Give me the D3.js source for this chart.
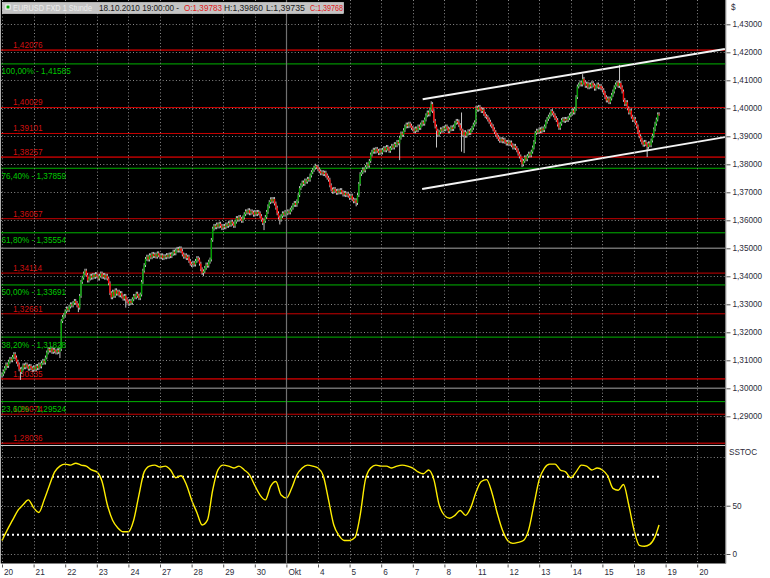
<!DOCTYPE html>
<html><head><meta charset="utf-8">
<script src="https://cdn.jsdelivr.net/npm/d3@7"></script>
<style>body{margin:0;background:#fff}svg{display:block}</style>
</head><body><svg id="c" width="770" height="578"></svg>
<script>
// ---------- DATA ----------
const dayLabels = ["20","21","22","23","24","27","28","29","30","Okt","4","5","6","7","8","11","12","13","14","15","18","19","20"];
const firstOpen = 1.3045;
const closes = [
1.3050,1.3060,1.3072,1.3085,1.3080,1.3095,1.3105,1.3100,1.3112,1.3122,1.3110,1.3095,1.3085,1.3068,1.3058,1.3070,1.3082,1.3075,1.3085,1.3078,1.3070,1.3080,1.3072,1.3066,
1.3075,1.3068,1.3080,1.3072,1.3085,1.3078,1.3090,1.3098,1.3092,1.3110,1.3128,1.3140,1.3135,1.3142,1.3130,1.3138,1.3132,1.3128,1.3136,1.3130,1.3140,1.3240,1.3255,1.3262,
1.3275,1.3285,1.3280,1.3292,1.3300,1.3296,1.3305,1.3312,1.3305,1.3296,1.3288,1.3330,1.3380,1.3395,1.3410,1.3420,1.3405,1.3385,1.3392,1.3402,1.3395,1.3405,1.3398,1.3408,
1.3400,1.3392,1.3402,1.3410,1.3398,1.3405,1.3395,1.3402,1.3392,1.3375,1.3340,1.3325,1.3345,1.3330,1.3350,1.3338,1.3345,1.3332,1.3340,1.3328,1.3320,1.3330,1.3318,1.3310,
1.3302,1.3312,1.3305,1.3318,1.3330,1.3325,1.3338,1.3330,1.3322,1.3335,1.3380,1.3420,1.3440,1.3462,1.3470,1.3460,1.3475,1.3468,1.3480,1.3472,1.3478,1.3470,1.3482,1.3475,
1.3468,1.3475,1.3465,1.3472,1.3468,1.3476,1.3470,1.3478,1.3472,1.3480,1.3488,1.3482,1.3492,1.3498,1.3492,1.3500,1.3490,1.3478,1.3470,1.3475,1.3465,1.3470,1.3455,1.3445,
1.3440,1.3448,1.3442,1.3455,1.3465,1.3460,1.3445,1.3425,1.3412,1.3418,1.3430,1.3442,1.3438,1.3452,1.3460,1.3530,1.3570,1.3580,1.3575,1.3585,1.3578,1.3588,1.3580,1.3572,
1.3580,1.3575,1.3585,1.3580,1.3590,1.3584,1.3595,1.3588,1.3580,1.3595,1.3608,1.3602,1.3612,1.3605,1.3598,1.3610,1.3622,1.3632,1.3628,1.3636,1.3625,1.3632,1.3628,1.3620,
1.3630,1.3622,1.3630,1.3625,1.3615,1.3602,1.3590,1.3598,1.3612,1.3630,1.3650,1.3665,1.3675,1.3668,1.3676,1.3660,1.3645,1.3625,1.3610,1.3602,1.3615,1.3625,1.3620,1.3630,
1.3625,1.3632,1.3628,1.3638,1.3645,1.3655,1.3662,1.3655,1.3668,1.3690,1.3715,1.3725,1.3735,1.3730,1.3742,1.3738,1.3748,1.3745,1.3760,1.3772,1.3780,1.3788,1.3795,1.3790,
1.3782,1.3775,1.3768,1.3772,1.3765,1.3770,1.3760,1.3752,1.3745,1.3725,1.3710,1.3702,1.3712,1.3705,1.3698,1.3706,1.3700,1.3708,1.3700,1.3692,1.3698,1.3690,1.3695,1.3688,
1.3680,1.3688,1.3675,1.3668,1.3672,1.3662,1.3690,1.3730,1.3765,1.3772,1.3782,1.3778,1.3790,1.3800,1.3795,1.3812,1.3835,1.3845,1.3852,1.3845,1.3855,1.3848,1.3840,1.3850,
1.3842,1.3852,1.3858,1.3850,1.3862,1.3856,1.3848,1.3858,1.3866,1.3860,1.3872,1.3868,1.3880,1.3875,1.3895,1.3910,1.3905,1.3922,1.3935,1.3942,1.3936,1.3945,1.3938,1.3930,
1.3925,1.3918,1.3928,1.3922,1.3935,1.3930,1.3942,1.3950,1.3945,1.3960,1.3975,1.3985,1.3978,1.3995,1.4015,1.3990,1.3955,1.3935,1.3920,1.3905,1.3915,1.3925,1.3920,1.3930,
1.3925,1.3935,1.3928,1.3918,1.3925,1.3932,1.3926,1.3935,1.3948,1.3955,1.3950,1.3940,1.3928,1.3920,1.3905,1.3915,1.3902,1.3910,1.3918,1.3912,1.3922,1.3930,1.3942,1.3950,
1.4002,1.3995,1.4005,1.3998,1.3990,1.3995,1.3980,1.3972,1.3968,1.3960,1.3952,1.3942,1.3936,1.3925,1.3915,1.3905,1.3898,1.3890,1.3884,1.3890,1.3882,1.3888,1.3880,1.3874,
1.3880,1.3872,1.3878,1.3868,1.3860,1.3866,1.3858,1.3850,1.3838,1.3828,1.3815,1.3800,1.3812,1.3825,1.3818,1.3830,1.3838,1.3832,1.3845,1.3860,1.3880,1.3912,1.3920,1.3915,
1.3925,1.3918,1.3928,1.3922,1.3935,1.3952,1.3962,1.3970,1.3978,1.3990,1.3982,1.3975,1.3965,1.3958,1.3942,1.3930,1.3945,1.3958,1.3962,1.3955,1.3962,1.3958,1.3965,1.3975,
1.3980,1.3992,1.3985,1.3998,1.4040,1.4078,1.4085,1.4092,1.4085,1.4105,1.4092,1.4080,1.4088,1.4075,1.4085,1.4078,1.4090,1.4082,1.4070,1.4078,1.4085,1.4075,1.4080,1.4072,
1.4065,1.4055,1.4040,1.4028,1.4035,1.4022,1.4035,1.4048,1.4060,1.4075,1.4085,1.4092,1.4080,1.4090,1.4075,1.4060,1.4030,1.4015,1.4022,1.4000,1.3985,1.3992,1.3970,1.3958,
1.3962,1.3948,1.3935,1.3915,1.3900,1.3888,1.3878,1.3870,1.3880,1.3872,1.3862,1.3875,1.3868,1.3885,1.3902,1.3925,1.3945,1.3960,1.39783,1.39768
];
// notable wicks
const spikeIdx  = [14, 44, 58, 94, 153, 199, 205, 211, 239, 269, 302, 326, 330, 347, 349, 351, 395, 441, 469, 490, 499];
const spikeHigh = [null,null,null,null,null,null,1.3683,null,1.3798,null,null,1.4025,null,1.3960,1.3985,null,null,1.4122,1.4155,null,1.39860];
const spikeLow  = [1.3030,1.3108,1.3272,1.3288,1.3401,1.3565,null,1.3585,null,1.3650,1.3815,null,1.3860,null,1.3845,1.3840,1.3790,null,null,1.3826,1.39735];

const redLevels = [1.42076, 1.40029, 1.39101, 1.38257, 1.36057, 1.34114, 1.32661, 1.30335, 1.29074, 1.28036];
const fibNames  = ["100,00%", "76,40%", "61,80%", "50,00%", "38,20%", "23,60%"];
const fibLevels = [1.41585, 1.37859, 1.35554, 1.33691, 1.31828, 1.29524];
const grayLevels = [1.35, 1.30];
const priceTicks = [1.29,1.30,1.31,1.32,1.33,1.34,1.35,1.36,1.37,1.38,1.39,1.40,1.41,1.42,1.43];
const stochTicks = [0, 50];
const stochGrid = [0, 50, 100];
const stochBands = [20, 80];
const stochStep = 4;
const stochK = [
14,25,35,45,51,56,48,43,56,71,
85,91,93,92,94,92,91,87,85,75,
51,35,27,23,23,35,61,85,91,92,
90,91,87,79,81,72,56,43,30,35,
66,87,92,91,89,91,87,82,71,61,
56,70,75,61,58,68,82,89,92,91,
89,81,56,30,19,14,14,17,40,77,
89,92,91,91,89,91,92,91,89,85,
83,87,77,51,40,37,40,45,40,48,
64,75,77,64,43,25,14,11,12,14,
25,51,77,89,93,93,87,85,79,85,
92,91,87,89,87,81,68,66,72,51,
25,9,8,10,18
];
const stochLast = 30;
// trend channel: [startBar, startPrice] -> [endBar, endPrice]
const trendStart = [[319.5, 1.40321], [319.1, 1.37118]];
const trendEnd   = [[549, 1.42118], [549, 1.38971]];
// header texts
const symbolName = "EURUSD FXD 1 Stunde";
const lastTime = "18.10.2010 19:00:00 -";

// ---------- SETUP ----------
const FONT = "'Liberation Sans', Arial, sans-serif";
const svg = d3.select("#c");
const nDays = dayLabels.length;
const x = d3.scaleLinear().domain([0, (nDays - 1) * 24]).range([2, 2 + (nDays - 1) * 31.6]);
const yP = d3.scaleLinear().domain([1.30, 1.43]).range([388.3, 24.3]);
const yS = d3.scaleLinear().domain([0, 100]).range([554, 457.4]);
const L = 1, R = 725.5, PB = 444, ST = 446, B = 563.5;
const fmt5 = v => d3.format(".5f")(v).replace(".", ",");

svg.append("rect").attr("width", 770).attr("height", 578).attr("fill", "#fff");
svg.append("rect").attr("x", L).attr("y", 0).attr("width", R - L).attr("height", B).attr("fill", "#000");
svg.append("line").attr("x1", 0.5).attr("x2", 0.5).attr("y1", 0).attr("y2", B).attr("stroke", "#b0b0b0");

const defs = svg.append("defs");
defs.append("clipPath").attr("id", "cp").append("rect").attr("x", L).attr("y", 0).attr("width", R - L).attr("height", PB);
defs.append("clipPath").attr("id", "cs").append("rect").attr("x", L).attr("y", ST).attr("width", R - L).attr("height", B - ST);

const gP = svg.append("g").attr("clip-path", "url(#cp)");
const gS = svg.append("g").attr("clip-path", "url(#cs)");

// grids
gP.selectAll(".hg").data(priceTicks).join("line")
  .attr("x1", L).attr("x2", R).attr("y1", d => Math.round(yP(d)) + 0.5).attr("y2", d => Math.round(yP(d)) + 0.5)
  .attr("stroke", "#8a8a8a").attr("stroke-dasharray", "1,2.3");
gS.selectAll(".sg").data(stochGrid).join("line")
  .attr("x1", L).attr("x2", R).attr("y1", d => Math.round(yS(d)) + 0.5).attr("y2", d => Math.round(yS(d)) + 0.5)
  .attr("stroke", "#8a8a8a").attr("stroke-dasharray", "1,2.3");
svg.selectAll(".vg").data(dayLabels.map((d, i) => i)).join("line")
  .attr("x1", i => Math.round(x(i * 24)) + 0.5).attr("x2", i => Math.round(x(i * 24)) + 0.5)
  .attr("y1", 0).attr("y2", B)
  .attr("stroke", "#8a8a8a").attr("stroke-dasharray", "1,2.3");
const okt = dayLabels.indexOf("Okt");
svg.append("line").attr("x1", Math.round(x(okt * 24)) + 0.5).attr("x2", Math.round(x(okt * 24)) + 0.5)
  .attr("y1", 0).attr("y2", B).attr("stroke", "#707070").attr("stroke-width", 1.2);

// level lines
const thick = new Set([1.42076, 1.38257, 1.30335, 1.28036]);
gP.selectAll(".gl").data(grayLevels).join("line")
  .attr("x1", L).attr("x2", R).attr("y1", d => yP(d)).attr("y2", d => yP(d))
  .attr("stroke", "#6e6e6e").attr("stroke-width", 1.6);
gP.selectAll(".rl").data(redLevels).join("line")
  .attr("x1", L).attr("x2", R).attr("y1", d => yP(d)).attr("y2", d => yP(d))
  .attr("stroke", d => thick.has(d) ? "#a00000" : "#c80000").attr("stroke-width", d => thick.has(d) ? 1.8 : 1);
gP.selectAll(".fl").data(fibLevels).join("line")
  .attr("x1", L).attr("x2", R).attr("y1", d => yP(d)).attr("y2", d => yP(d))
  .attr("stroke", "#00b400").attr("stroke-width", 1);

gP.selectAll(".rt").data(redLevels).join("text")
  .attr("x", 13).attr("y", d => yP(d) - 2.2)
  .attr("font-family", FONT).attr("font-size", 8.2).attr("fill", "#d01010")
  .text(d => fmt5(d));

// candles
const spikes = new Map(spikeIdx.map((k, j) => [k, [spikeHigh[j], spikeLow[j]]]));
const bars = closes.map((c, i) => {
  const o = i === 0 ? firstOpen : closes[i - 1];
  const sp = spikes.get(i) || [null, null];
  const pad = 0.0007;
  return { i, o, c, h: sp[0] ?? Math.max(o, c) + pad, l: sp[1] ?? Math.min(o, c) - pad };
});
const gC = gP.append("g");
gC.selectAll(".wk").data(bars).join("line")
  .attr("x1", d => x(d.i)).attr("x2", d => x(d.i))
  .attr("y1", d => yP(d.h)).attr("y2", d => yP(d.l))
  .attr("stroke", "#c4c4c4").attr("stroke-width", 1);
gC.selectAll(".bd").data(bars).join("rect")
  .attr("x", d => x(d.i) - 0.7).attr("width", 1.4)
  .attr("y", d => yP(Math.max(d.o, d.c)))
  .attr("height", d => Math.max(1, Math.abs(yP(d.o) - yP(d.c))))
  .attr("fill", d => d.c >= d.o ? "#00a000" : "#ff0000");

gP.selectAll(".ft").data(fibLevels).join("text")
  .attr("x", 1.5).attr("y", d => yP(d) + 10.5)
  .attr("font-family", FONT).attr("font-size", 8.2).attr("fill", "#00c800")
  .text((d, i) => fibNames[i] + " - " + fmt5(d));

gP.selectAll(".tl").data(trendStart).join("line")
  .attr("x1", d => x(d[0])).attr("y1", d => yP(d[1]))
  .attr("x2", (d, i) => x(trendEnd[i][0])).attr("y2", (d, i) => yP(trendEnd[i][1]))
  .attr("stroke", "#f4f4f4").attr("stroke-width", 2);

svg.append("line").attr("x1", L).attr("x2", R).attr("y1", 445.5).attr("y2", 445.5).attr("stroke", "#c8c8c8");

// stochastic
const lastBar = closes.length - 1;
gS.selectAll(".sb").data(stochBands).join("line")
  .attr("x1", x(0)).attr("x2", x(lastBar)).attr("y1", d => yS(d)).attr("y2", d => yS(d))
  .attr("stroke", "#ffffff").attr("stroke-width", 2).attr("stroke-dasharray", "2,3");
const stochPts = stochK.map((v, j) => [j * stochStep, v]).concat([[lastBar, stochLast]]);
gS.append("path").datum(stochPts)
  .attr("d", d3.line().x(d => x(d[0])).y(d => yS(d[1])).curve(d3.curveMonotoneX))
  .attr("fill", "none").attr("stroke", "#ffee00").attr("stroke-width", 1.4);

// axes
svg.append("line").attr("x1", R + 0.3).attr("x2", R + 0.3).attr("y1", 0).attr("y2", B).attr("stroke", "#808080");
svg.append("line").attr("x1", L).attr("x2", R).attr("y1", B).attr("y2", B).attr("stroke", "#808080");
function styleAxis(g) {
  g.select(".domain").remove();
  g.attr("font-family", FONT).attr("font-size", 8.2);
  g.selectAll("text").attr("fill", "#2c2c3a");
  g.selectAll("line").attr("stroke", "#555");
}
svg.append("g").attr("transform", `translate(${R + 1},0)`)
  .call(d3.axisRight(yP).tickValues(priceTicks).tickSize(4).tickPadding(2).tickFormat(fmt5))
  .call(styleAxis);
svg.append("g").attr("transform", `translate(${R + 1},0)`)
  .call(d3.axisRight(yS).tickValues(stochTicks).tickSize(4).tickPadding(2).tickFormat(d => d))
  .call(styleAxis);
const gx = svg.append("g").attr("transform", `translate(0,${B + 1})`)
  .call(d3.axisBottom(x).tickValues(dayLabels.map((d, i) => i * 24)).tickSize(3).tickPadding(2).tickFormat((d, i) => dayLabels[i]))
  .call(styleAxis);
gx.selectAll("text").attr("text-anchor", "start").attr("x", 1.5);

svg.append("text").attr("x", 731).attr("y", 10).attr("font-family", FONT).attr("font-size", 8.2).attr("fill", "#2c2c3a").text("$");
svg.append("text").attr("x", 729).attr("y", 455).attr("font-family", FONT).attr("font-size", 8.2).attr("fill", "#2c2c3a").text("SSTOC");

// header
svg.append("rect").attr("x", 2.5).attr("y", 2.5).attr("width", 341).attr("height", 11).attr("fill", "#c4c4c4").attr("stroke", "#e8e8e8").attr("stroke-width", 0.6);
svg.append("rect").attr("x", 5.5).attr("y", 4.5).attr("width", 5).attr("height", 5).attr("fill", "#fff");
svg.append("rect").attr("x", 6.5).attr("y", 5.5).attr("width", 3).attr("height", 3).attr("fill", "#00a000");
const headerParts = [
  [symbolName, 13, 79, "#ececec"],
  [lastTime, 99, 80, "#1a1a1a"],
  ["O:" + fmt5(closes[lastBar - 1]), 184, 38, "#e01818"],
  ["H:" + fmt5(spikeHigh[spikeHigh.length - 1]), 224, 39, "#1a1a1a"],
  ["L:" + fmt5(spikeLow[spikeLow.length - 1]), 266, 39, "#1a1a1a"],
  ["C:" + fmt5(closes[lastBar]), 310, 33, "#e01818"]
];
svg.selectAll(".hd").data(headerParts).join("text")
  .attr("x", d => d[1]).attr("y", 11).attr("textLength", d => d[2]).attr("lengthAdjust", "spacingAndGlyphs")
  .attr("font-family", FONT).attr("font-size", 8.4).attr("fill", d => d[3]).text(d => d[0]);
</script></body></html>
